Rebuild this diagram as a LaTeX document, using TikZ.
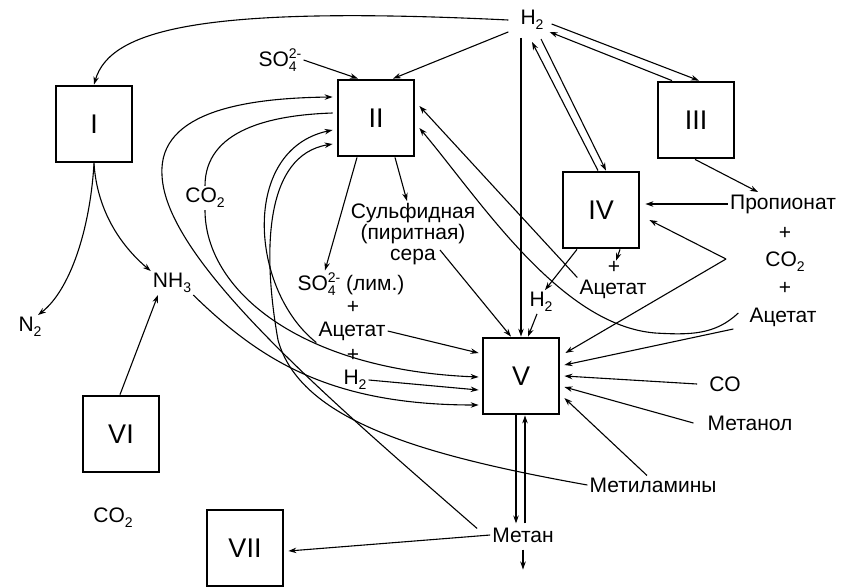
\documentclass[tikz,border=0pt]{standalone}
\usepackage{fontspec}
\setmainfont{Liberation Sans}
\usetikzlibrary{arrows.meta,calc}

\newcommand{\lowi}[1]{\raisebox{-5pt}{\fontsize{14}{14}\selectfont #1}}
\newcommand{\upi}[1]{\raisebox{8pt}{\fontsize{14}{14}\selectfont #1}}
\newcommand{\sulfat}{SO\rlap{\lowi{4}}\upi{2-}}

\begin{document}
\begin{tikzpicture}[x=1pt, y=-1pt,
  box/.style={draw, line width=2.8pt, minimum size=76pt, inner sep=0pt, font=\fontsize{27}{30}\selectfont},
  lbl/.style={inner sep=2pt, font=\fontsize{21}{22}\selectfont},
  arr/.style={-{Stealth[length=8pt,width=5.5pt]}, line width=1.1pt},
  ln/.style={line width=1.1pt}]
  \useasboundingbox (0,0) rectangle (843,587);

  % boxes
  \node[box] (bI) at (94,124) {I};
  \node[box] (bII) at (376,118) {II};
  \node[box] (bIII) at (696,120) {III};
  \node[box] (bIV) at (601,210) {IV};
  \node[box] (bV) at (521,376) {V};
  \node[box] (bVI) at (121,434) {VI};
  \node[box] (bVII) at (245,548) {VII};

  % substances
  \node[lbl] (hT) at (532,20) {H\lowi{2}};
  \node[lbl] (so4T) at (280,60) {\sulfat};
  \node[lbl] (co2L) at (205,198) {CO\lowi{2}};
  \node[lbl] (nh3) at (172,283) {NH\lowi{3}};
  \node[lbl] (n2) at (30,327) {N\lowi{2}};
  \node[lbl, align=center, font=\fontsize{21}{21}\selectfont] (sulf) at (413,234) {Сульфидная\\(пиритная)\\сера};
  \node[lbl] (so4L) at (351,284) {\sulfat\ (лим.)};
  \node[lbl] (pM1) at (353,307) {+};
  \node[lbl] (acM) at (352,331) {Ацетат};
  \node[lbl] (pM2) at (353,355) {+};
  \node[lbl] (h2M) at (355,380) {H\lowi{2}};
  \node[lbl, inner sep=0pt] (pIV) at (614,267) {+};
  \node[lbl] (acIV) at (613,289) {Ацетат};
  \node[lbl] (h2V) at (541,302) {H\lowi{2}};
  \node[lbl] (prop) at (783,204) {Пропионат};
  \node[lbl] (pR1) at (785,233) {+};
  \node[lbl] (co2R) at (785,262) {CO\lowi{2}};
  \node[lbl] (pR2) at (785,288) {+};
  \node[lbl] (acR) at (783,317) {Ацетат};
  \node[lbl] (co) at (725,384) {CO};
  \node[lbl] (mtl) at (750,423) {Метанол};
  \node[lbl] (mta) at (653,485) {Метиламины};
  \node[lbl] (mt) at (523,535) {Метан};
  \node[lbl] (co2B) at (113,518) {CO\lowi{2}};
  \coordinate (fk) at (726,259);

  % hydrogen
  \draw[arr] ([xshift=-10pt]hT.west) .. controls (200,5) and (110,30) .. (bI.north);
  \draw[arr] ([xshift=-10pt]hT.south west) -- ([xshift=17pt]bII.north);
  \draw[arr] (so4T.east) -- ([xshift=-18pt]bII.north);
  \draw[arr] ($(hT.south -| bV.north)+(0,6)$) -- (bV.north);
  \draw[arr] ([shift={(6,4)}]hT.east) -- ([xshift=3pt]bIII.north);
  \draw[arr] ([xshift=-24pt]bIII.north) -- ([shift={(4,12)}]hT.east);
  \draw[arr] ([xshift=-3pt]bIV.north) -- ([shift={(0,22)}]hT.center);
  \draw[arr] ([shift={(9,19)}]hT.center) -- ([xshift=5pt]bIV.north);

  % right side
  \draw[arr] ([xshift=-1pt]bIII.south) -- ([shift={(-25,-12)}]prop.center);
  \draw[arr, line width=1.8pt, shorten >=5pt] (prop.west) -- (bIV.east |- prop.west);
  \draw[arr] (fk) -- ([shift={(9,10)}]bIV.east);
  \draw[arr] (fk) -- ([shift={(5,-23)}]bV.east);
  \draw[arr] ([shift={(-14,12)}]acR.west) -- ([shift={(4,-11)}]bV.east);
  \draw[arr] ([shift={(-9,-4)}]acR.west) .. controls (715,335) and (690,335) .. (655,333)
    .. controls (560,325) and (480,200) .. ([shift={(4,10)}]bII.east);
  \draw[arr] (acIV.north west) -- ([shift={(4,-12)}]bII.east);
  \draw[arr] ([xshift=-24pt]bIV.south) -- ([xshift=4pt]h2V.north);
  \draw[arr] ([xshift=19pt]bIV.south) -- ([xshift=2pt]pIV.north);
  \draw[arr] ([xshift=-4pt]h2V.south) -- ([xshift=7pt]bV.north);
  \draw[arr] ([xshift=-10pt]co.west) -- ([xshift=4pt]bV.east);
  \draw[arr] ([xshift=-12pt]mtl.west) -- ([shift={(4,11)}]bV.east);
  \draw[arr] ([xshift=-6pt]mta.north) -- ([shift={(4,22)}]bV.east);

  % sulphur
  \draw[arr] ([xshift=19pt]bII.south) -- ([xshift=-6pt]sulf.north);
  \draw[arr] ([xshift=-19pt]bII.south) -- ([xshift=-26pt]so4L.north);
  \draw[arr] ([shift={(27,16)}]sulf.center) -- ([xshift=-10pt]bV.north);

  % left side into V
  \draw[arr] (acM.east) -- ([shift={(-3,-23)}]bV.west);
  \draw[arr] (h2M.east) -- ([shift={(-3,14)}]bV.west);
  \draw[arr] (co2L.south) .. controls (205,290) and (300,370) .. ([shift={(-3,1)}]bV.west);
  \draw[arr] (nh3.south east) .. controls (260,360) and (330,405) .. ([shift={(-3,29)}]bV.west);

  % loops into II
  \draw[ln] (co2L.north) .. controls (205,130) and (270,115) .. ([shift={(-4,-5)}]bII.west);
  \draw[arr] ([shift={(-13,3)}]mt.north west) .. controls (330,400) and (165,260) .. (162,175)
    .. controls (158,110) and (250,98) .. ([shift={(-4,-21)}]bII.west);
  \draw[arr] (acM.south west) .. controls (250,290) and (240,150) .. ([shift={(-4,12)}]bII.west);
  \draw[arr] (mta.west) .. controls (420,455) and (300,420) .. (278,340)
    .. controls (262,250) and (265,155) .. ([shift={(-4,26)}]bII.west);

  % methane
  \draw[arr] ([xshift=-5pt]bV.south) -- ($(bV.south)+(-5,108)$);
  \draw[arr] ($(bV.south)+(4,108)$) -- ([xshift=4pt]bV.south);
  \draw[arr] ([yshift=-5pt]mt.south) -- ++(0,20);
  \draw[arr] (mt.west) -- ([shift={(4,3)}]bVII.east);

  % nitrogen
  \draw[arr] ([xshift=-1pt]bVI.north) -- ([xshift=-14pt]nh3.south);
  \draw[arr] (bI.south) .. controls (97,210) and (120,245) .. (nh3.north west);
  \draw[arr] (bI.south) .. controls (90,230) and (70,290) .. ([xshift=8pt]n2.north);
\end{tikzpicture}
\end{document}
